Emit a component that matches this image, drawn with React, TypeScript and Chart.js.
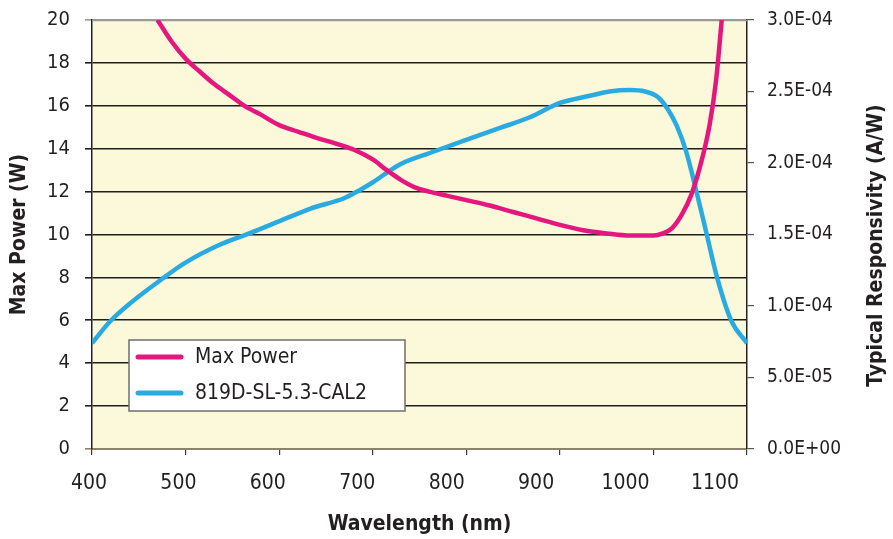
import React, { useEffect, useRef } from 'react';
import { Chart, registerables } from 'chart.js';

Chart.register(...registerables);

// ---- data ----
const powerWavelengths = [470, 485, 500, 515, 531, 547, 563, 580, 600, 620, 640, 660, 680, 700, 715, 730, 745, 760, 780, 800, 825, 850, 875, 900, 925, 950, 975, 1000, 1010, 1020, 1030, 1040, 1050, 1060, 1067, 1073];
const maxPowerW = [20.0, 19.0, 18.2, 17.6, 17.0, 16.5, 16.0, 15.6, 15.1, 14.8, 14.5, 14.25, 13.95, 13.5, 13.0, 12.55, 12.2, 12.0, 11.8, 11.6, 11.35, 11.05, 10.75, 10.45, 10.2, 10.05, 9.95, 9.95, 10.05, 10.3, 10.9, 11.8, 13.2, 15.1, 17.2, 20.0];

const respWavelengths = [400, 419, 441, 473, 499, 537, 569, 599, 633, 670, 686, 699, 729, 761, 799, 836, 868, 900, 932, 953, 975, 991, 1005, 1015, 1025, 1035, 1046, 1057, 1068, 1083, 1100];
const responsivity = [0.000074, 0.000089, 0.000102, 0.000118, 0.00013, 0.000143, 0.000151, 0.000159, 0.000168, 0.0001755, 0.000181, 0.000186, 0.000199, 0.000207, 0.000216, 0.0002245, 0.000232, 0.000242, 0.000247, 0.00025, 0.000251, 0.00025, 0.000246, 0.000238, 0.000226, 0.000208, 0.00018, 0.00015, 0.00012, 0.00009, 0.000074];

const xTickLabels = [400, 500, 600, 700, 800, 900, 1000, 1100];
const seriesNames = ['Max Power', '819D-SL-5.3-CAL2'];
const seriesColors = ['#E5177F', '#29ABE2'];
const axisTitles = { x: 'Wavelength (nm)', yLeft: 'Max Power (W)', yRight: 'Typical Responsivity (A/W)' };

const FONT = '"DejaVu Sans Condensed", "Liberation Sans Narrow", sans-serif';

function sciLabel(v: number): string {
  if (Math.abs(v) < 1e-12) return '0.0E+00';
  const s = v.toExponential(1);
  const [m, e] = s.split('e');
  const n = parseInt(e, 10);
  const sign = n < 0 ? '-' : '+';
  const abs = Math.abs(n);
  return m + 'E' + sign + (abs < 10 ? '0' + abs : String(abs));
}

const decorPlugin = {
  id: 'decor',
  beforeDraw(chart: any) {
    const { ctx, chartArea: a } = chart;
    ctx.save();
    ctx.fillStyle = '#FCF8DA';
    ctx.fillRect(a.left, a.top, a.right - a.left, a.bottom - a.top);
    ctx.restore();
  },
  beforeDatasetsDraw(chart: any) {
    const { ctx, chartArea: a } = chart;
    ctx.save();
    ctx.lineWidth = 1.5;
    ctx.strokeStyle = '#9a9a9a';
    ctx.beginPath();
    ctx.moveTo(a.left, a.top + 0.5);
    ctx.lineTo(a.right, a.top + 0.5);
    ctx.stroke();
    ctx.restore();
  },
  afterDraw(chart: any) {
    const { ctx, chartArea: a } = chart;
    ctx.save();
    // legend box
    const bx = a.left + 37;
    const by = a.bottom - 109;
    const bw = 276;
    const bh = 71;
    ctx.fillStyle = '#ffffff';
    ctx.fillRect(bx, by, bw, bh);
    ctx.strokeStyle = '#6f6f6f';
    ctx.lineWidth = 1.5;
    ctx.strokeRect(bx, by, bw, bh);
    ctx.lineCap = 'round';
    ctx.font = '21px ' + FONT;
    ctx.textBaseline = 'middle';
    ctx.textAlign = 'left';
    seriesNames.forEach((name, i) => {
      const cy = by + 17 + i * 36;
      ctx.strokeStyle = seriesColors[i];
      ctx.lineWidth = 5;
      ctx.beginPath();
      ctx.moveTo(bx + 9, cy);
      ctx.lineTo(bx + 52, cy);
      ctx.stroke();
      ctx.fillStyle = '#231f20';
      ctx.fillText(name, bx + 66, cy + 1);
    });
    // right axis title (reads bottom to top)
    ctx.translate(chart.width - 16, (a.top + a.bottom) / 2 + 11);
    ctx.rotate(-Math.PI / 2);
    ctx.font = 'bold 21px ' + FONT;
    ctx.fillStyle = '#231f20';
    ctx.textAlign = 'center';
    ctx.textBaseline = 'middle';
    ctx.fillText(axisTitles.yRight, 0, 0);
    ctx.restore();
  },
};

const noPad = (s: any) => {
  s.paddingTop = 0;
  s.paddingBottom = 0;
  s.paddingLeft = 0;
  s.paddingRight = 0;
};

export default function App() {
  const ref = useRef<HTMLCanvasElement | null>(null);

  useEffect(() => {
    document.body.style.margin = '0';
    const canvas = ref.current;
    if (!canvas) return;
    const chart = new Chart(canvas, {
      type: 'line',
      data: {
        datasets: [
          {
            label: seriesNames[0],
            data: powerWavelengths.map((x, i) => ({ x, y: maxPowerW[i] })),
            borderColor: seriesColors[0],
            backgroundColor: seriesColors[0],
            borderWidth: 4.5,
            pointRadius: 0,
            cubicInterpolationMode: 'monotone',
            yAxisID: 'y',
            xAxisID: 'x',
          },
          {
            label: seriesNames[1],
            data: respWavelengths.map((x, i) => ({ x, y: responsivity[i] })),
            borderColor: seriesColors[1],
            backgroundColor: seriesColors[1],
            borderWidth: 4.5,
            pointRadius: 0,
            cubicInterpolationMode: 'monotone',
            yAxisID: 'y1',
            xAxisID: 'x',
          },
        ],
      },
      options: {
        animation: false,
        responsive: true,
        maintainAspectRatio: false,
        layout: { padding: { top: 20, left: 0, right: 0, bottom: 0 } },
        plugins: {
          legend: { display: false },
          tooltip: { enabled: false },
        },
        scales: {
          x: {
            type: 'linear',
            position: 'bottom',
            weight: 0,
            min: 400,
            max: 1100,
            ticks: { display: false, stepSize: 100 },
            grid: { drawOnChartArea: false, drawTicks: true, tickLength: 6, color: '#3a3a3a', lineWidth: 1.2 },
            border: { display: true, color: '#8a8468', width: 2 },
            afterFit: (s: any) => { s.height = 6; noPad(s); },
          },
          xl: {
            type: 'linear',
            position: 'bottom',
            weight: 1,
            min: 403.4,
            max: 1135.8,
            afterBuildTicks: (s: any) => { s.ticks = xTickLabels.map((v) => ({ value: v })); },
            ticks: {
              autoSkip: false,
              maxRotation: 0,
              padding: 16,
              color: '#231f20',
              font: { family: FONT, size: 21 },
              callback: (v: any) => String(v),
            },
            grid: { display: false, drawTicks: false },
            border: { display: false },
            title: {
              display: true,
              text: axisTitles.x,
              color: '#231f20',
              font: { family: FONT, size: 21, weight: 'bold' },
              padding: { top: 0, bottom: 2 },
            },
            afterFit: (s: any) => { s.height = 84; noPad(s); },
          },
          y: {
            type: 'linear',
            position: 'left',
            min: 0,
            max: 20,
            ticks: {
              stepSize: 2,
              padding: 15,
              color: '#231f20',
              font: { family: FONT, size: 20 },
            },
            grid: {
              drawTicks: true,
              tickLength: 7,
              lineWidth: 1.6,
              color: (c: any) => (c.tick && c.tick.value === 0 ? '#8a8468' : c.tick && c.tick.value === 20 ? '#9a9a9a' : '#1e1e1e'),
            },
            border: { display: true, color: '#222222', width: 1.5 },
            title: {
              display: true,
              text: axisTitles.yLeft,
              color: '#231f20',
              font: { family: FONT, size: 21, weight: 'bold' },
              padding: { top: 7, bottom: 0 },
            },
            afterFit: (s: any) => { s.width = 92; noPad(s); },
          },
          y1: {
            type: 'linear',
            position: 'right',
            min: 0,
            max: 0.0003,
            ticks: {
              stepSize: 0.00005,
              padding: 13,
              color: '#231f20',
              font: { family: FONT, size: 19 },
              callback: (v: any) => sciLabel(Number(v)),
            },
            grid: { drawOnChartArea: false, drawTicks: true, tickLength: 7, color: '#555555', lineWidth: 1.2 },
            border: { display: true, color: '#222222', width: 1.5 },
            afterFit: (s: any) => { s.width = 146; noPad(s); },
          },
        },
      },
      plugins: [decorPlugin],
    } as any);
    return () => chart.destroy();
  }, []);

  return (
    <div style={{ position: 'absolute', left: 0, top: 0, width: 893, height: 539, background: '#ffffff' }}>
      <canvas ref={ref} />
    </div>
  );
}
